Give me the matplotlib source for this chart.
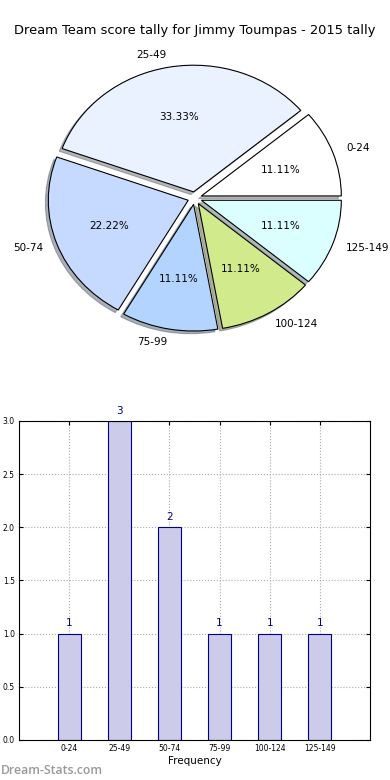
import matplotlib
matplotlib.use("Agg")
import matplotlib.pyplot as plt
import numpy as np

title = "Dream Team score tally for Jimmy Toumpas - 2015 tally"
categories = ["0-24", "25-49", "50-74", "75-99", "100-124", "125-149"]
counts = [1, 3, 2, 1, 1, 1]
pie_colors = ["#ffffff", "#eaf1ff", "#c6d9ff", "#b3d4ff", "#d0ea8c", "#dafffe"]
explode = [0.05] * 6
yticks = [0.0, 0.5, 1.0, 1.5, 2.0, 2.5, 3.0]

fig = plt.figure(figsize=(3.9, 7.8), dpi=100)
fig.patch.set_facecolor("white")

# Pie
ax1 = fig.add_axes([0.051, 0.543, 0.897, 0.406])
wedges, texts, autotexts = ax1.pie(
    counts, labels=categories, colors=pie_colors, explode=explode,
    autopct="%1.2f%%",
    shadow={"ox": -0.015, "oy": -0.015, "shade": 0.55},
    startangle=0, counterclock=True,
    wedgeprops=dict(edgecolor="black", linewidth=0.8),
    textprops=dict(fontsize=7.5))
ax1.set_aspect("auto")
ax1.set_xlim(-1.25, 1.25)
ax1.set_ylim(-1.25, 1.25)
fig.text(0.5, 0.961, title, ha="center", va="center", fontsize=9.4)

# Bar chart
ax2 = fig.add_axes([0.0487, 0.0513, 0.9, 0.409])
x = np.arange(len(categories))
bars = ax2.bar(x, counts, width=0.46, color="#ccccea", edgecolor="#000088",
               linewidth=0.8, zorder=2)
for xi, c in zip(x, counts):
    ax2.text(xi, c + 0.05, str(c), ha="center", va="bottom", fontsize=7.5,
             color="#000088")
ax2.set_xlim(-1, 6)
ax2.set_ylim(0, 3.0)
ax2.set_xticks(x)
ax2.set_xticklabels(categories, fontsize=5.5)
ax2.set_yticks(yticks)
ax2.set_yticklabels(["%.1f" % v for v in yticks], fontsize=5.5)
ax2.tick_params(direction="in", length=3, top=True, right=True, pad=3)
ax2.grid(True, linestyle=":", color="#aaaaaa", linewidth=0.8, zorder=0)
ax2.set_axisbelow(True)
ax2.set_xlabel("Frequency", fontsize=7.5, labelpad=2)
for s in ax2.spines.values():
    s.set_linewidth(0.8)

fig.text(0.003, 0.012, "Dream-Stats.com", fontsize=8.8, color="#999999",
         family="Open Sans", fontweight="semibold", ha="left", va="center")

fig.savefig("out.png", dpi=100, facecolor="white")
